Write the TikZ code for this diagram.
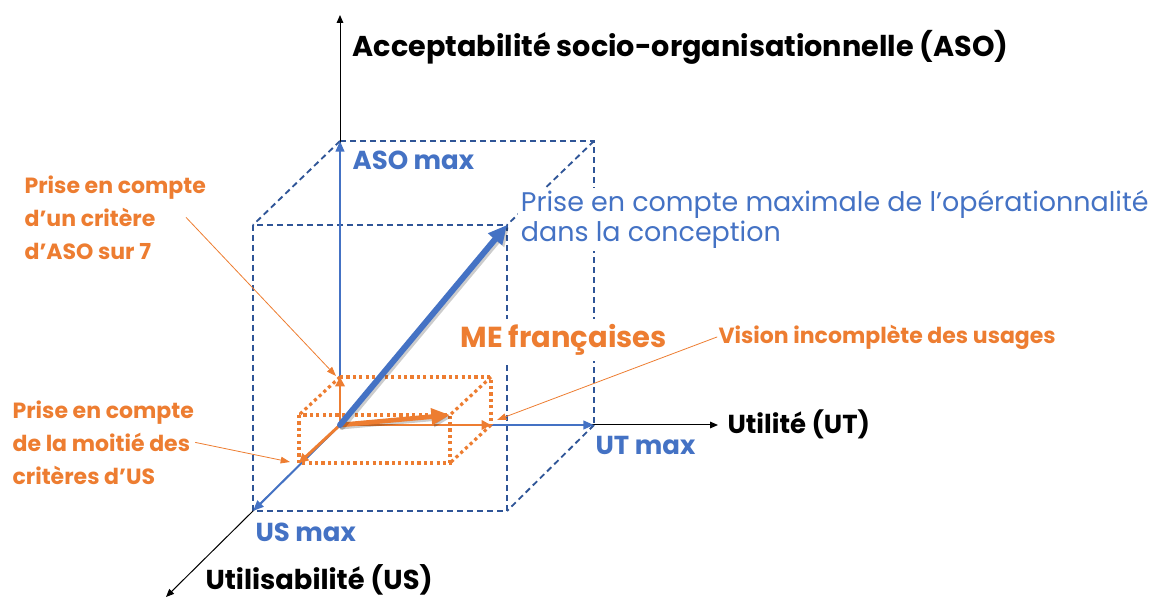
\documentclass[tikz,border=0pt]{standalone}
\usepackage{fontspec}
\setmainfont{Poppins}
\usetikzlibrary{arrows.meta}
\definecolor{officeBlue}{HTML}{4472C4}
\definecolor{cubeBlue}{HTML}{2F5597}
\definecolor{officeOrange}{HTML}{ED7D31}
\tikzset{
  axisLbl/.style={font=\bfseries\fontsize{20.5}{24}\selectfont, text=black, inner sep=1pt},
  maxLbl/.style={font=\bfseries\fontsize{19.5}{23}\selectfont, text=officeBlue, inner sep=1pt},
  noteLbl/.style={font=\bfseries\fontsize{16.5}{24.7}\selectfont, text=officeOrange, inner sep=1pt, align=left},
  cubeEdge/.style={cubeBlue, line width=1.4pt, dash pattern=on 4.5pt off 3pt, line cap=butt},
  boxEdge/.style={officeOrange, line width=2.4pt, dash pattern=on 2.4pt off 2.4pt, line cap=butt},
  leader/.style={officeOrange, line width=0.6pt, -{Triangle[length=7pt, width=5pt]}},
  shadowArr/.style={black, opacity=0.2, transform canvas={shift={(1.5pt,-1.5pt)}}}
}

\begin{document}
\begin{tikzpicture}[x=0.75pt, y=-0.75pt, line cap=round, >={Triangle[length=6pt, width=5pt]}]
        \useasboundingbox (0,0) rectangle (1164,598);
        \coordinate (O) at (340,425);
        \coordinate (asoTop) at (340,15);
        \coordinate (utEnd) at (718,425);
        \coordinate (usEnd) at (166,597);
        \coordinate (asoMax) at (340,141);
        \coordinate (utMax) at (594,425);
        \coordinate (usMax) at (253,511);
        \coordinate (cubeTop) at (507,225);
        % dashed cube
        \draw[cubeEdge] (253,225) rectangle (507,511);
        \draw[cubeEdge] (asoMax) -- (594,141) -- (utMax);
        \draw[cubeEdge] (asoMax) -- (253,225) (594,141) -- (cubeTop) (utMax) -- (507,511);
        % axes
        \draw[black, line width=0.75pt, ->] (O) -- (asoTop);
        \draw[black, line width=0.75pt, ->] (O) -- (utEnd);
        \draw[black, line width=0.75pt, ->] (O) -- (usEnd);
        \draw[officeBlue, line width=1.5pt, -{Triangle[length=8pt, width=6.5pt]}] (O) -- (asoMax);
        \draw[officeBlue, line width=1.5pt, -{Triangle[length=8pt, width=6.5pt]}] (O) -- (utMax);
        \draw[officeBlue, line width=1.5pt, -{Triangle[length=8pt, width=6.5pt]}] (O) -- (usMax);
        % small dotted box
        \coordinate (meAso) at (340,377);
        \coordinate (meUt) at (491,425);
        \coordinate (meUs) at (299,463);
        \coordinate (meTop) at (450,415);
        \draw[boxEdge] (299,415) rectangle (450,463);
        \draw[boxEdge] (meAso) -- (491,377) -- (meUt);
        \draw[boxEdge] (meAso) -- (299,415) (491,377) -- (meTop) (meUt) -- (450,463);
        \draw[officeOrange, line width=2.2pt, -{Triangle[length=7pt, width=7pt]}] (O) -- (meAso);
        \draw[officeOrange, line width=2.2pt, -{Triangle[length=7pt, width=7pt]}] (O) -- (meUt);
        \draw[officeOrange, line width=2.2pt, -{Triangle[length=7pt, width=7pt]}] (O) -- (meUs);
        % main vectors
        \draw[shadowArr, line width=3.5pt, -{Triangle[length=14pt, width=12pt]}] (O) -- (meTop);
        \draw[officeOrange, line width=3.5pt, -{Triangle[length=14pt, width=12pt]}] (O) -- (meTop);
        \draw[shadowArr, line width=4.5pt, -{Triangle[length=14pt, width=13pt]}] (O) -- (cubeTop);
        \draw[officeBlue, line width=4.5pt, -{Triangle[length=14pt, width=13pt]}] (O) -- (cubeTop);
        % labels
        \node[axisLbl, font=\bfseries\fontsize{21.5}{25}\selectfont, anchor=west] (asoAxis) at (351,47) {Acceptabilité socio-organisationnelle (ASO)};
        \node[axisLbl, font=\bfseries\fontsize{19.5}{23}\selectfont, anchor=west] (utAxis) at (726,424) {Utilité (UT)};
        \node[axisLbl, anchor=west] (usAxis) at (204,580) {Utilisabilité (US)};
        \node[maxLbl, anchor=west] (asoMaxLbl) at (351,160) {ASO max};
        \node[maxLbl, anchor=west] (utMaxLbl) at (594,445) {UT max};
        \node[maxLbl, anchor=west] (usMaxLbl) at (254,532) {US max};
        \node[font=\fontsize{20.2}{21.8}\selectfont, text=officeBlue, fill=white, align=left, anchor=north west, inner sep=2pt] (maxOp) at (518,188) {Prise en compte maximale de l’opérationnalité\\dans la conception};
        \node[font=\bfseries\fontsize{21.7}{25}\selectfont, text=officeOrange, fill=white, anchor=west, inner sep=4pt] (meLbl) at (455,340) {ME françaises};
        \node[noteLbl, anchor=west] (visionLbl) at (717,337) {Vision incomplète des usages};
        \node[noteLbl, anchor=north west] (critAso) at (23,174) {Prise en compte\\d’un critère\\d’ASO sur 7};
        \node[noteLbl, anchor=north west] (critUs) at (11,399) {Prise en compte\\de la moitié des\\critères d’US};
        % leaders
        \coordinate (asoHit) at (336,376);
        \coordinate (usHit) at (290,462);
        \coordinate (utHit) at (497,420);
        \draw[leader] ([xshift=-16pt]critAso.east) -- (asoHit);
        \draw[leader] (critUs.east) -- (usHit);
        \draw[leader] (visionLbl.west) -- (utHit);
    \end{tikzpicture}
\end{document}
